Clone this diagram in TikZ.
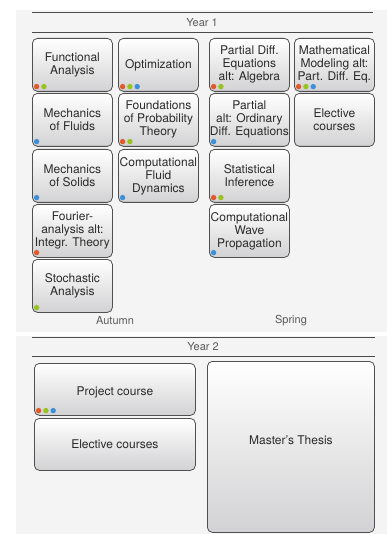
\documentclass[tikz,border=0pt]{standalone}
\usepackage{fontspec}
\setmainfont{TeX Gyre Heros}
\usetikzlibrary{calc}
\definecolor{panel}{HTML}{F4F4F4}
\definecolor{rule}{HTML}{4A4A4A}
\definecolor{boxline}{HTML}{505050}
\definecolor{boxbot}{HTML}{D2D2D4}
\definecolor{textc}{HTML}{2A2A2A}
\definecolor{headc}{HTML}{5A5A5A}
\definecolor{dO}{HTML}{E2582A}
\definecolor{dG}{HTML}{98C21F}
\definecolor{dB}{HTML}{3D8FDA}
\newcommand\mydotrow[2]{\foreach \c [count=\i from 0] in {#2} {\fill[\c] ($(#1.south west)+({4.6+7.3*\i},-5.2)$) circle (2.7pt);}}
\tikzset{
  course/.style={draw=boxline, line width=0.8pt, rounded corners=5pt,
    top color=white, middle color=white!98!black, bottom color=boxbot,
    anchor=north west, minimum width=80pt, minimum height=53pt,
    inner sep=0pt, align=center, text=textc,
    font=\fontsize{12}{13}\selectfont},
  headtext/.style={text=headc, font=\fontsize{11}{13}\selectfont, inner sep=0pt},
  headrule/.style={draw=rule, line width=0.9pt}
}
\begin{document}
\begin{tikzpicture}[x=1pt,y=-1pt]
\useasboundingbox (0,0) rectangle (387,534);
% panels
\fill[panel] (16,10) rectangle (387,332);
\fill[panel] (16,336) rectangle (387,534);
% Year 1 header
\coordinate (h1a) at (32,12); \coordinate (h1b) at (373,12);
\coordinate (h1c) at (32,32); \coordinate (h1d) at (373,32);
\draw[headrule] (h1a) -- (h1b);
\draw[headrule] (h1c) -- (h1d);
\node[headtext] (y1) at (202,22.5) {Year 1};
% column 1
\node[course] (fa) at (32,38) {Functional\\Analysis};
\node[course] (mf) at (32,93) {Mechanics\\of Fluids};
\node[course] (ms) at (32,149) {Mechanics\\of Solids};
\node[course] (fo) at (32,204) {Fourier-\\analysis alt:\\Integr. Theory};
\node[course] (sa) at (32,259) {Stochastic\\Analysis};
% column 2
\node[course] (op) at (118,38) {Optimization};
\node[course] (fp) at (118,93) {Foundations\\of Probability\\Theory};
\node[course] (cf) at (118,149) {Computational\\Fluid\\Dynamics};
% column 3
\node[course] (pd) at (209,38) {Partial Diff.\\Equations\\alt: Algebra};
\node[course] (po) at (209,93) {Partial\\alt: Ordinary\\Diff. Equations};
\node[course] (si) at (209,149) {Statistical\\Inference};
\node[course] (cw) at (209,204) {Computational\\Wave\\Propagation};
% column 4
\node[course] (mm) at (294,38) {Mathematical\\Modeling alt:\\Part. Diff. Eq.};
\node[course] (ec) at (294,93) {Elective\\courses};
% dots
\mydotrow{fa}{dO,dG}
\mydotrow{mf}{dB}
\mydotrow{ms}{dB}
\mydotrow{fo}{dO}
\mydotrow{sa}{dG}
\mydotrow{op}{dO,dG,dB}
\mydotrow{fp}{dO,dG}
\mydotrow{cf}{dB}
\mydotrow{pd}{dO,dG}
\mydotrow{po}{dB}
\mydotrow{si}{dO,dG}
\mydotrow{cw}{dB}
\mydotrow{mm}{dO,dG,dB}
\node[headtext] (au) at (115,321) {Autumn};
\node[headtext] (sp) at (291,321) {Spring};
% Year 2 header
\coordinate (h2a) at (32,337); \coordinate (h2b) at (375,337);
\coordinate (h2c) at (32,356); \coordinate (h2d) at (375,356);
\draw[headrule] (h2a) -- (h2b);
\draw[headrule] (h2c) -- (h2d);
\node[headtext] (y2) at (203,347) {Year 2};
\node[course, minimum width=161pt, minimum height=52pt, text height=12pt, text depth=0pt] (pc) at (34,363) {Project course};
\node[course, minimum width=161pt, minimum height=52pt] (ec2) at (34,418) {Elective courses};
\node[course, minimum width=167pt, minimum height=171pt, text height=0pt, text depth=4pt] (mt) at (207,361) {Master's Thesis};
\mydotrow{pc}{dO,dG,dB}
\end{tikzpicture}
\end{document}
